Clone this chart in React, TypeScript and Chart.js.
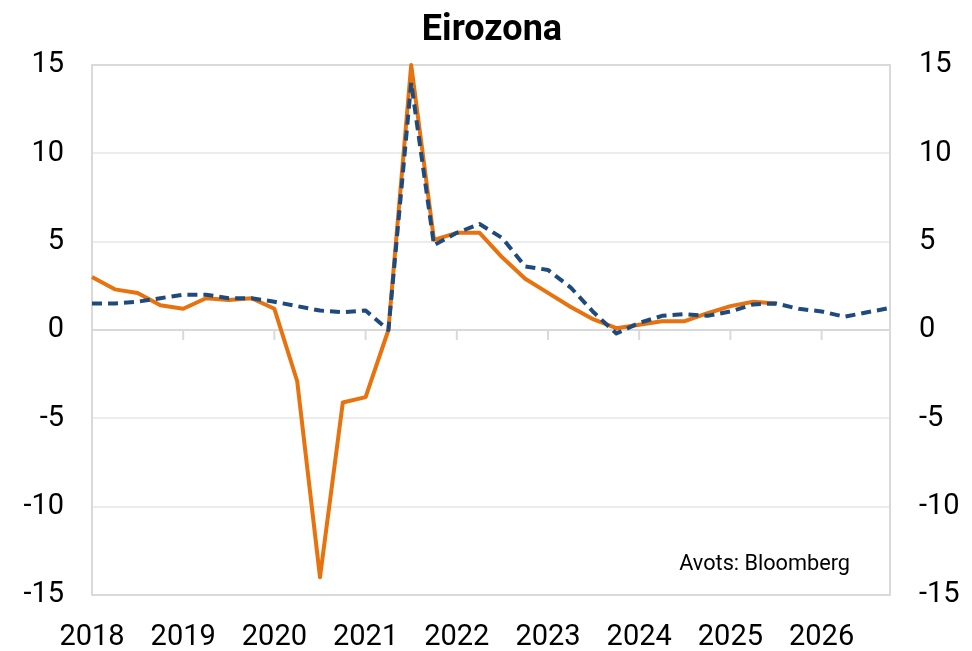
import React, { useEffect, useRef } from "react";
import { Chart, registerables } from "chart.js";

Chart.register(...registerables);

const years = ["2018", "2019", "2020", "2021", "2022", "2023", "2024", "2025", "2026"];
const quarters = ["Q1", "Q2", "Q3", "Q4"];
const categories: string[] = years.flatMap((y) => quarters.map((q) => `${y} ${q}`));

const orangeSeries: (number | null)[] = [
  3.0, 2.3, 2.1, 1.4,
  1.2, 1.8, 1.7, 1.8,
  1.2, -2.9, -14.0, -4.1,
  -3.8, 0.0, 15.0, 5.1,
  5.5, 5.5, 4.1, 2.9,
  2.1, 1.3, 0.6, 0.1,
  0.3, 0.5, 0.5, 0.95,
  1.35, 1.6, 1.5, null,
  null, null, null, null,
];

const blueSeries: number[] = [
  1.5, 1.5, 1.6, 1.8,
  2.0, 2.0, 1.8, 1.8,
  1.6, 1.35, 1.1, 1.0,
  1.1, 0.0, 14.0, 4.8,
  5.5, 6.0, 5.2, 3.6,
  3.4, 2.4, 1.0, -0.2,
  0.4, 0.8, 0.9, 0.8,
  1.05, 1.45, 1.5, 1.2,
  1.05, 0.75, 1.0, 1.25,
];

const yTicks = [-15, -10, -5, 0, 5, 10, 15];
const titleText = "Eirozona";
const sourceText = "Avots: Bloomberg";

const FONT = "Roboto, 'Noto Sans', sans-serif";

export default function App() {
  const canvasRef = useRef<HTMLCanvasElement | null>(null);

  useEffect(() => {
    document.body.style.margin = "0";
    const canvas = canvasRef.current;
    if (!canvas) return;

    const overlay = {
      id: "overlay",
      beforeDatasetsDraw(chart: any) {
        const { ctx, scales } = chart;
        const x = scales.x;
        const y = scales.y;
        const y0 = y.getPixelForValue(0);
        ctx.save();
        ctx.strokeStyle = "#d9d9d9";
        ctx.lineWidth = 2;
        categories.forEach((_, i) => {
          if (i % 4 === 0 && i > 0) {
            const px = x.getPixelForValue(i);
            ctx.beginPath();
            ctx.moveTo(px, y0);
            ctx.lineTo(px, y0 + 10);
            ctx.stroke();
          }
        });
        ctx.restore();
      },
      afterDraw(chart: any) {
        const { ctx, chartArea } = chart;
        ctx.save();
        ctx.fillStyle = "#000";
        ctx.textAlign = "center";
        ctx.textBaseline = "alphabetic";
        ctx.font = `bold 36px ${FONT}`;
        ctx.fillText(titleText, (chartArea.left + chartArea.right) / 2 + 1, 40);
        ctx.font = `21.7px ${FONT}`;
        ctx.textAlign = "right";
        ctx.fillText(sourceText, chartArea.right - 40, 570);
        ctx.restore();
      },
    };

    const gridColor = (c: any) => {
      const v = c.tick ? c.tick.value : 0;
      return v === 0 || v === 15 || v === -15 ? "#d9d9d9" : "#ececec";
    };

    const chart = new Chart(canvas, {
      type: "line",
      data: {
        labels: categories,
        datasets: [
          {
            data: blueSeries,
            borderColor: "#1f4a7c",
            borderWidth: 4,
            borderDash: [10, 6],
            borderJoinStyle: "round",
            pointRadius: 0,
            tension: 0,
            fill: false,
            clip: false as any,
            yAxisID: "y",
          },
          {
            data: orangeSeries,
            borderColor: "#e8720e",
            borderWidth: 4,
            borderJoinStyle: "round",
            pointRadius: 0,
            tension: 0,
            fill: false,
            clip: false as any,
            spanGaps: false,
            yAxisID: "y",
          },
        ],
      },
      options: {
        responsive: false,
        animation: false,
        layout: { padding: { top: 65, left: 0, right: 0, bottom: 0 } },
        plugins: {
          legend: { display: false },
          title: { display: false },
          tooltip: { enabled: false },
        },
        scales: {
          x: {
            type: "category",
            offset: false,
            grid: { display: false, drawTicks: false },
            border: { display: false },
            ticks: {
              autoSkip: false,
              maxRotation: 0,
              minRotation: 0,
              padding: 25,
              color: "#000",
              font: { family: FONT, size: 29 },
              callback: (_v: any, i: number) => (i % 4 === 0 ? years[i / 4] : ""),
            },
            afterFit: (s: any) => {
              s.height = 56;
            },
          },
          y: {
            position: "left",
            min: -15,
            max: 15,
            afterBuildTicks: (s: any) => {
              s.ticks = yTicks.map((v) => ({ value: v }));
            },
            grid: { color: gridColor, lineWidth: 2, drawTicks: false },
            border: { display: true, color: "#d9d9d9", width: 2 },
            ticks: {
              padding: 28,
              color: "#000",
              font: { family: FONT, size: 29 },
            },
            afterFit: (s: any) => {
              s.width = 92;
            },
          },
          y2: {
            position: "right",
            min: -15,
            max: 15,
            afterBuildTicks: (s: any) => {
              s.ticks = yTicks.map((v) => ({ value: v }));
            },
            grid: { display: false, drawTicks: false },
            border: { display: true, color: "#d9d9d9", width: 2 },
            ticks: {
              padding: 29,
              color: "#000",
              font: { family: FONT, size: 29 },
            },
            afterFit: (s: any) => {
              s.width = 82;
            },
          },
        },
      },
      plugins: [overlay],
    });

    return () => chart.destroy();
  }, []);

  return (
    <div style={{ position: "absolute", left: 0, top: 0, width: 972, height: 651, background: "#fff" }}>
      <canvas ref={canvasRef} width={972} height={651} style={{ display: "block" }} />
    </div>
  );
}
